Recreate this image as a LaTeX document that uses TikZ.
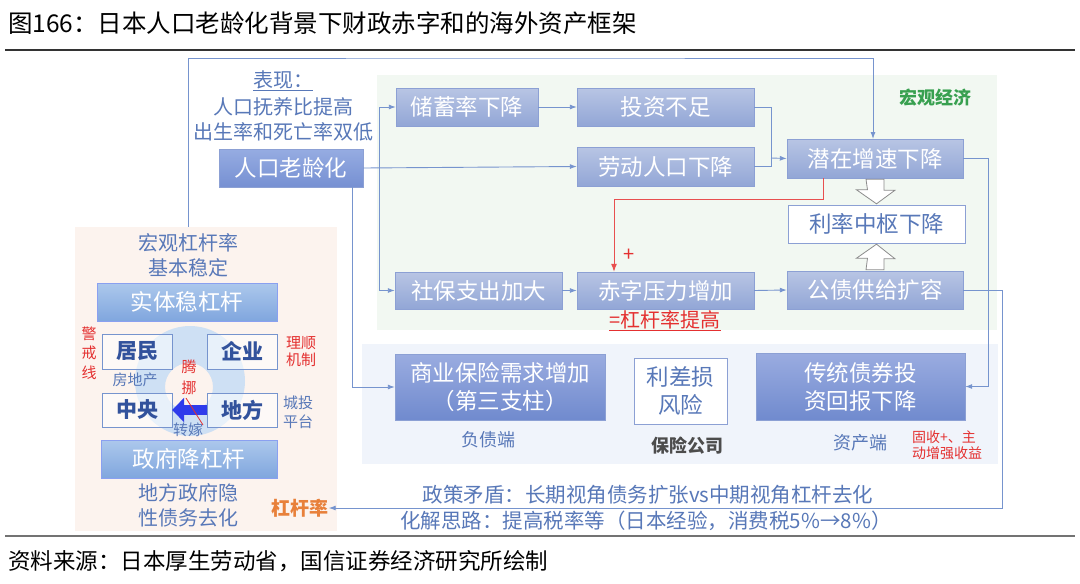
\documentclass[tikz,border=0pt]{standalone}
\usepackage{fontspec}
\setmainfont{Noto Sans CJK SC}
\usepackage{xcolor}
\usepackage{tikz}
\usetikzlibrary{arrows.meta,positioning,calc}

\newcommand\fsz[1]{\fontsize{#1}{#1}\selectfont}
\newcommand\fszl[2]{\fontsize{#1}{#2}\selectfont}

\definecolor{lineblue}{RGB}{118,148,206}
\definecolor{mtop}{RGB}{184,197,228}
\definecolor{mbot}{RGB}{146,166,214}
\definecolor{medge}{RGB}{140,160,212}
\definecolor{ptop}{RGB}{150,172,226}
\definecolor{pbot}{RGB}{118,144,210}
\definecolor{itop}{RGB}{154,172,224}
\definecolor{ibot}{RGB}{112,138,206}
\definecolor{ltop}{RGB}{172,200,236}
\definecolor{lbot}{RGB}{128,166,222}
\definecolor{txtblue}{RGB}{88,120,184}
\definecolor{darkblue}{RGB}{50,82,156}
\definecolor{redtxt}{RGB}{228,48,48}
\definecolor{greentxt}{RGB}{56,160,80}
\definecolor{orangetxt}{RGB}{232,128,58}
\definecolor{greenbg}{RGB}{242,248,242}
\definecolor{bluebg}{RGB}{240,244,251}
\definecolor{pinkbg}{RGB}{252,243,238}
\definecolor{ringblue}{RGB}{206,224,244}

\begin{document}
\begin{tikzpicture}[x=1pt,y=-1pt,
  mbox/.style={draw=medge, top color=mtop, bottom color=mbot, text=white, font=\fsz{22.5}, inner sep=0pt},
  pbox/.style={draw=medge, top color=ptop, bottom color=pbot, text=white, font=\fsz{22.5}, inner sep=0pt},
  ibox/.style={draw=medge, top color=itop, bottom color=ibot, text=white, font=\fszl{22.5}{28}, inner sep=0pt, align=center},
  lbox/.style={draw=ltop!80!blue, top color=ltop, bottom color=lbot, text=white, font=\fsz{22.5}, inner sep=0pt},
  wbox/.style={draw=medge, fill=white, text=txtblue, font=\fszl{22.5}{28}, inner sep=0pt, align=center},
  sbox/.style={draw=lineblue, fill=white, fill opacity=0.55, text opacity=1, text=darkblue, font=\bfseries\fsz{21}, inner sep=0pt, minimum width=70pt, minimum height=35pt},
  lbl/.style={text=txtblue, font=\fsz{20}, inner sep=0pt, align=center},
  small/.style={text=txtblue, font=\fsz{15}, inner sep=0pt, align=center},
  redl/.style={text=redtxt, font=\fsz{15}, inner sep=0pt, align=center},
  link/.style={draw=lineblue, line width=0.9pt},
  conn/.style={link, -{Latex[length=7pt,width=5pt]}},
  redc/.style={draw=redtxt!85, line width=1pt, -{Latex[length=8pt,width=6pt]}},
  hollow/.style={draw=black!45, fill=white, line width=0.8pt, line join=miter}
]
\useasboundingbox (0,0) rectangle (1080,584);
\fill[white] (0,0) rectangle (1080,584);

% title and source
\node[anchor=west, inner sep=0pt, font=\fsz{24.5}] (title) at (8,23) {图166：日本人口老龄化背景下财政赤字和的海外资产框架};
\draw[line width=1.3pt, black!80] (5,50) -- (1075,50);
\draw[line width=1.3pt, black!55] (5,536) -- (1075,536);
\node[anchor=west, inner sep=0pt, font=\fsz{22.5}] (src) at (8,561) {资料来源：日本厚生劳动省，国信证券经济研究所绘制};

% backgrounds
\node[fill=greenbg, minimum width=620pt, minimum height=255pt, inner sep=0pt] (macbg) at (687,202.5) {};
\node[fill=bluebg, minimum width=636pt, minimum height=120pt, inner sep=0pt] (insbg) at (680,404) {};
\node[fill=pinkbg, minimum width=262pt, minimum height=304pt, inner sep=0pt] (levbg) at (206,379) {};
\fill[ringblue, even odd rule] (190,381) circle (55pt) (189,387) circle (24pt);

% macro economy
\node[lbl] (bx) at (283,81) {\underline{表现：}};
\node[lbl] (fy) at (283,107) {人口抚养比提高};
\node[lbl] (cs) at (283,132) {出生率和死亡率双低};
\node[text=greentxt, font=\bfseries\fsz{18}, inner sep=0pt] (hgjj) at (935,98) {宏观经济};

\node[pbox, minimum width=144pt, minimum height=38pt] (lh) at (291,168) {人口老龄化};
\node[mbox, minimum width=142pt, minimum height=38pt] (cx) at (467,107) {储蓄率下降};
\node[mbox, minimum width=177pt, minimum height=38pt] (tz) at (665.5,107) {投资不足};
\node[mbox, minimum width=177pt, minimum height=39pt] (ld) at (665.5,166.5) {劳动人口下降};
\node[mbox, minimum width=176pt, minimum height=39pt] (qz) at (875,158.5) {潜在增速下降};
\node[wbox, minimum width=177pt, minimum height=38pt] (ll) at (876.5,224) {利率中枢下降};
\node[mbox, minimum width=176pt, minimum height=38pt] (gz) at (875,290) {公债供给扩容};
\node[mbox, minimum width=167pt, minimum height=37pt] (sb) at (478.5,290.5) {社保支出加大};
\node[mbox, minimum width=177pt, minimum height=37pt] (cz) at (665.5,290.5) {赤字压力增加};
\node[text=redtxt, font=\fsz{20}, inner sep=0pt] (plus) at (629,255) {+};
\node[text=redtxt, font=\fsz{20}, inner sep=0pt] (ggtg) at (665,321) {\underline{=杠杆率提高}};

% insurance
\node[ibox, minimum width=210pt, minimum height=66pt] (sy) at (500,387) {商业保险需求增加\\（第三支柱）};
\node[wbox, minimum width=93pt, minimum height=66pt] (lc) at (680.5,391) {利差损\\风险};
\node[ibox, minimum width=209pt, minimum height=67pt] (ct) at (860.5,386.5) {传统债券投\\资回报下降};
\node[text=txtblue, font=\fsz{18}, inner sep=0pt] (fz) at (488,440) {负债端};
\node[text=black!70, font=\bfseries\fsz{18}, inner sep=0pt] (bxgs) at (687,446) {保险公司};
\node[text=txtblue, font=\fsz{18}, inner sep=0pt] (zc) at (860,443) {资产端};
\node[redl, font=\fszl{14}{16}, align=left] (gs) at (947,445) {固收+、主\\动增强收益};

% leverage
\node[lbl] (gl) at (188,243) {宏观杠杆率};
\node[lbl] (jb) at (188,268) {基本稳定};
\node[lbox, minimum width=180pt, minimum height=38pt] (st) at (187,302) {实体稳杠杆};
\node[sbox] (jm) at (137.5,351.5) {居民};
\node[sbox] (qy) at (242,351.5) {企业};
\node[sbox, minimum height=34pt] (zy) at (137,410) {中央};
\node[sbox, minimum height=34pt] (df) at (242.5,410) {地方};
\node[lbox, minimum width=176pt, minimum height=38pt] (zf) at (189,459) {政府降杠杆};
\node[small] (fd) at (135,380) {房地产};
\node[redl, font=\fszl{15}{19.5}] (jj) at (89,353) {警\\戒\\线};
\node[redl, font=\fszl{15}{17}] (lx) at (301,351.5) {理顺\\机制};
\node[small, font=\fszl{15}{19}] (ctpt) at (298,412.5) {城投\\平台};
\node[redl, font=\fszl{15}{21}] (tn) at (189,377) {腾\\挪};
\node[small] (zj) at (188,430) {转嫁};
\node[lbl, font=\fszl{20}{25}] (yx) at (188,505.5) {地方政府隐\\性债务去化};
\node[text=orangetxt, font=\bfseries\fsz{19}, inner sep=0pt] (gg) at (300,508) {杠杆率};

% policy text
\node[lbl, font=\fsz{20.5}] (zc1) at (648,495) {政策矛盾：长期视角债务扩张vs中期视角杠杆去化};
\node[lbl, font=\fsz{20.5}] (hj1) at (646,521) {化解思路：提高税率等（日本经验，消费税5\%→8\%）};

% connectors
\coordinate (j1) at (379,167);
\coordinate (j2) at (771,158);
\draw[conn] (gl.north |- levbg.north) |- (500,58) -| (873,139);
\draw[conn] (lh.east) -- (ld.west);
\draw[conn] (j1) |- (cx.west);
\draw[conn] (j1) |- (sb.west);
\draw[conn] (cx.east) -- (tz.west);
\draw[link] (tz.east) -| (j2);
\draw[link] (ld.east) -| (j2);
\draw[conn] (j2) -- (qz.west);
\draw[conn] ([xshift=61pt]lh.south) |- (sy.west);
\draw[conn] (sb.east) -- (cz.west);
\draw[conn] (cz.east) -- (gz.west);
\draw[conn] (qz.east) -- ++(25,0) |- (ct.east);
\draw[conn] (gz.east) -- ++(39,0) |- (gg.east);
\draw[redc] ([xshift=-52pt]qz.south) -- ++(0,21) -| ([xshift=-51.5pt]cz.north);

% hollow block arrows
\draw[hollow] ([xshift=-9pt,yshift=-1pt]qz.south) -- ++(18,0) -- ++(0,11) -- ++(11,0) -- ([yshift=1pt]ll.north) -- ++(-20,-14) -- ++(11,0) -- cycle;
\draw[hollow] ([xshift=-9pt,yshift=1pt]gz.north) -- ++(18,0) -- ++(0,-11) -- ++(11,0) -- ([yshift=-1pt]ll.south) -- ++(-20,14) -- ++(11,0) -- cycle;

% transfer arrow
\draw[line width=10pt, draw=blue!60!lineblue, -{Triangle[length=12pt,width=24pt]}] (df.west) -- (zy.east);
\draw[redtxt, line width=0.8pt] (186,398) -- (203,425);
\end{tikzpicture}
\end{document}
